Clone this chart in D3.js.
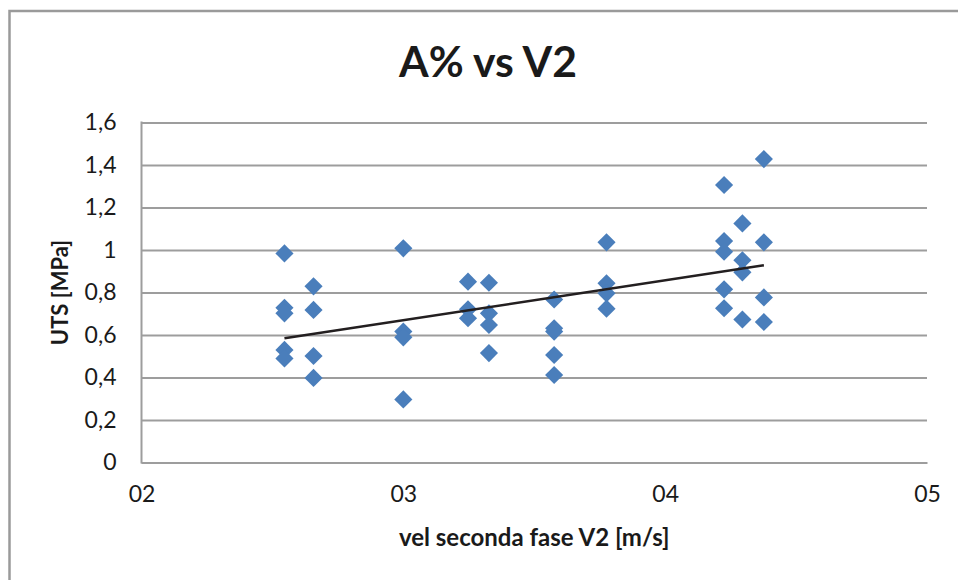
<!DOCTYPE html>
<html>
<head>
<meta charset="utf-8">
<script src="https://cdn.jsdelivr.net/npm/d3@7"></script>
<style>
  html, body { margin: 0; padding: 0; background: #fff; }
  svg { display: block; }
  text { font-family: Lato, "Open Sans", sans-serif; fill: #1a1a1a; }
</style>
</head>
<body>
<svg id="chart" width="958" height="580"></svg>
<script>
// Second-phase speed V2 [m/s] for each specimen
const speed = [
  2.546, 2.546, 2.546, 2.546, 2.546,
  2.657, 2.657, 2.657, 2.657,
  3.0, 3.0, 3.0, 3.0,
  3.247, 3.247, 3.247,
  3.327, 3.327, 3.327, 3.327,
  3.576, 3.576, 3.576, 3.576, 3.576,
  3.776, 3.776, 3.776, 3.776,
  4.225, 4.225, 4.225, 4.225, 4.225,
  4.295, 4.295, 4.295, 4.295,
  4.377, 4.377, 4.377, 4.377
];
// Measured UTS [MPa], same order as speed
const uts = [
  0.984, 0.728, 0.702, 0.530, 0.490,
  0.829, 0.718, 0.501, 0.398,
  1.008, 0.616, 0.589, 0.297,
  0.851, 0.721, 0.679,
  0.846, 0.702, 0.647, 0.515,
  0.767, 0.632, 0.616, 0.506, 0.412,
  1.036, 0.843, 0.796, 0.724,
  1.306, 1.042, 0.992, 0.815, 0.726,
  1.125, 0.952, 0.895, 0.673,
  1.428, 1.036, 0.777, 0.661
];
const xTicks = [2, 3, 4, 5];
const yTicks = [0, 0.2, 0.4, 0.6, 0.8, 1, 1.2, 1.4, 1.6];

const chartTitle = "A% vs V2";
const xTitle = "vel seconda fase V2 [m/s]";
const yTitle = "UTS [MPa]";

const svg = d3.select("#chart");
const W = 958, H = 580;
const plot = { left: 141.5, right: 927, top: 122.5, bottom: 462.5 };
const gridColor = "#9d9d9d";

const it = d3.formatLocale({ decimal: ",", thousands: ".", grouping: [3], currency: ["€", ""] });
const yFmt = v => it.format("~g")(v);
const xFmt = d3.format("02d");

const x = d3.scaleLinear().domain([2, 5]).range([plot.left, plot.right]);
const y = d3.scaleLinear().domain([0, 1.6]).range([plot.bottom, plot.top]);

// chart frame (only top and left edges fall inside the page)
svg.append("path")
  .attr("d", `M9.5,${H} L9.5,11 L${W},11`)
  .attr("fill", "none")
  .attr("stroke", "#9a9a9a")
  .attr("stroke-width", 2.5);

// title
svg.append("text")
  .attr("x", 488).attr("y", 76.5)
  .attr("text-anchor", "middle")
  .attr("font-size", 42).attr("font-weight", 700)
  .attr("textLength", 178).attr("lengthAdjust", "spacingAndGlyphs")
  .text(chartTitle);

// y axis with gridlines
const yAxis = d3.axisLeft(y).tickValues(yTicks).tickFormat(yFmt)
  .tickSize(-(plot.right - plot.left)).tickPadding(25);
const gy = svg.append("g").attr("transform", `translate(${plot.left},0)`).call(yAxis);
gy.select(".domain").remove();
gy.selectAll(".tick line").attr("stroke", gridColor).attr("stroke-width", 2);
gy.selectAll(".tick text")
  .attr("font-size", 23).attr("font-family", "Lato, sans-serif").attr("fill", "#1a1a1a");

// axis lines
svg.append("line")
  .attr("x1", plot.left).attr("x2", plot.left)
  .attr("y1", plot.top - 1).attr("y2", plot.bottom + 1)
  .attr("stroke", gridColor).attr("stroke-width", 2);

// x axis
const xAxis = d3.axisBottom(x).tickValues(xTicks).tickFormat(xFmt).tickSize(0).tickPadding(23);
const gx = svg.append("g").attr("transform", `translate(0,${plot.bottom})`).call(xAxis);
gx.select(".domain").attr("stroke", gridColor).attr("stroke-width", 2);
gx.selectAll(".tick text")
  .attr("font-size", 23).attr("font-family", "Lato, sans-serif").attr("fill", "#1a1a1a");

// axis titles
svg.append("text")
  .attr("x", (plot.left + plot.right) / 2).attr("y", 546)
  .attr("text-anchor", "middle")
  .attr("font-size", 24).attr("font-weight", 700)
  .text(xTitle);

svg.append("text")
  .attr("transform", `translate(68,${(plot.top + plot.bottom) / 2}) rotate(-90)`)
  .attr("text-anchor", "middle")
  .attr("font-size", 22).attr("font-weight", 700)
  .text(yTitle);

// data points
const pts = speed.map((s, i) => ({ s, u: uts[i] }));
const diamond = d3.symbol().type(d3.symbolDiamond2).size(210);
svg.append("g").selectAll("path")
  .data(pts).join("path")
  .attr("d", diamond)
  .attr("transform", d => `translate(${x(d.s)},${y(d.u)})`)
  .attr("fill", "#4a7ebb");

// least-squares linear trend over the data range
const mx = d3.mean(speed), my = d3.mean(uts);
const sxy = d3.sum(pts, d => (d.s - mx) * (d.u - my));
const sxx = d3.sum(pts, d => (d.s - mx) ** 2);
const slope = sxy / sxx, icpt = my - slope * mx;
const [x0, x1] = d3.extent(speed);
svg.append("line")
  .attr("x1", x(x0)).attr("y1", y(icpt + slope * x0))
  .attr("x2", x(x1)).attr("y2", y(icpt + slope * x1))
  .attr("stroke", "#231f20").attr("stroke-width", 2.5);
</script>
</body>
</html>
